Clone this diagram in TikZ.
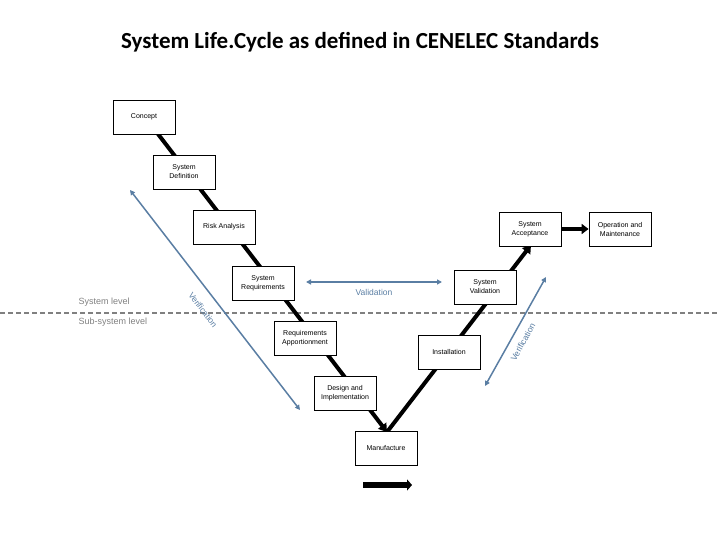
\documentclass[tikz,border=0pt]{standalone}
\usepackage{fontspec}
\setmainfont{Liberation Sans}
\newfontfamily\titlefont{Carlito}
\usetikzlibrary{arrows.meta}
\begin{document}
\begin{tikzpicture}[x=1pt,y=-1pt,
 box/.style={draw,fill=white,line width=0.8pt,minimum width=62pt,minimum height=34pt,inner sep=1pt,align=center,font=\fontsize{7}{9}\selectfont},
 vline/.style={line width=4pt},
 blue/.style={draw=vblue,line width=1.5pt,{Triangle[length=5pt,width=5pt]}-{Triangle[length=5pt,width=5pt]}},
 lbl/.style={text=vblue,font=\fontsize{8.5}{9}\selectfont}]
\definecolor{vblue}{HTML}{5A7EA3}
\useasboundingbox (0,0) rectangle (720,540);
\node[font=\titlefont\bfseries\fontsize{23}{26}\selectfont] (title) at (360,42) {System Life.Cycle as defined in CENELEC Standards};
% dashed line
\coordinate (dl) at (0,313); \coordinate (dr) at (720,313);
\draw[gray,dashed,line width=1.2pt,dash pattern=on 5pt off 3pt] (dl) -- (dr);
\node[anchor=west,text=gray,font=\fontsize{9}{10}\selectfont] (sl) at (75,302) {System level};
\node[anchor=west,text=gray,font=\fontsize{9}{10}\selectfont] (ssl) at (75,322) {Sub-system level};
% V path coordinates
\coordinate (v0) at (158,134);
\coordinate (v1) at (387,432);
\coordinate (v2) at (531,245);
\draw[vline,-{Triangle[length=8pt,width=10pt]}] (v0) -- (v1);
\draw[vline,-{Triangle[length=8pt,width=10pt]}] (v1) -- (v2);
% boxes
\node[box] (c) at (144,117) {Concept};
\node[box] (sd) at (184,172) {System\\Definition};
\node[box] (ra) at (224,227) {Risk Analysis};
\node[box] (sr) at (263,283) {System\\Requirements};
\node[box] (rap) at (305,338) {Requirements\\Apportionment};
\node[box] (di) at (345,393) {Design and\\Implementation};
\node[box] (m) at (386,448) {Manufacture};
\node[box] (in) at (449,352) {Installation};
\node[box] (sv) at (485,287) {System\\Validation};
\node[box] (sa) at (530,229) {System\\Acceptance};
\node[box] (om) at (620,229) {Operation and\\Maintenance};
\draw[vline,-{Triangle[length=7pt,width=10pt]}] (sa) -- (om);
% bottom arrow
\coordinate (ba) at (363,485); \coordinate (bb) at (412,485);
\draw[line width=6pt,-{Triangle[length=5pt,width=11pt]}] (ba) -- (bb);
% blue arrows
\coordinate (l1) at (130,190); \coordinate (l2) at (300,410);
\draw[blue] (l1) -- (l2);
\coordinate (va) at (306,282); \coordinate (vb) at (442,282);
\draw[blue] (va) -- (vb);
\node[lbl] (vt) at (374,292) {Validation};
\coordinate (r1) at (485,386); \coordinate (r2) at (546,277);
\draw[blue] (r1) -- (r2);
\node[lbl,rotate=-53] (vl) at (203,310) {Verification};
\node[lbl,rotate=61] (vr) at (523,342) {Verification};
\end{tikzpicture}
\end{document}
